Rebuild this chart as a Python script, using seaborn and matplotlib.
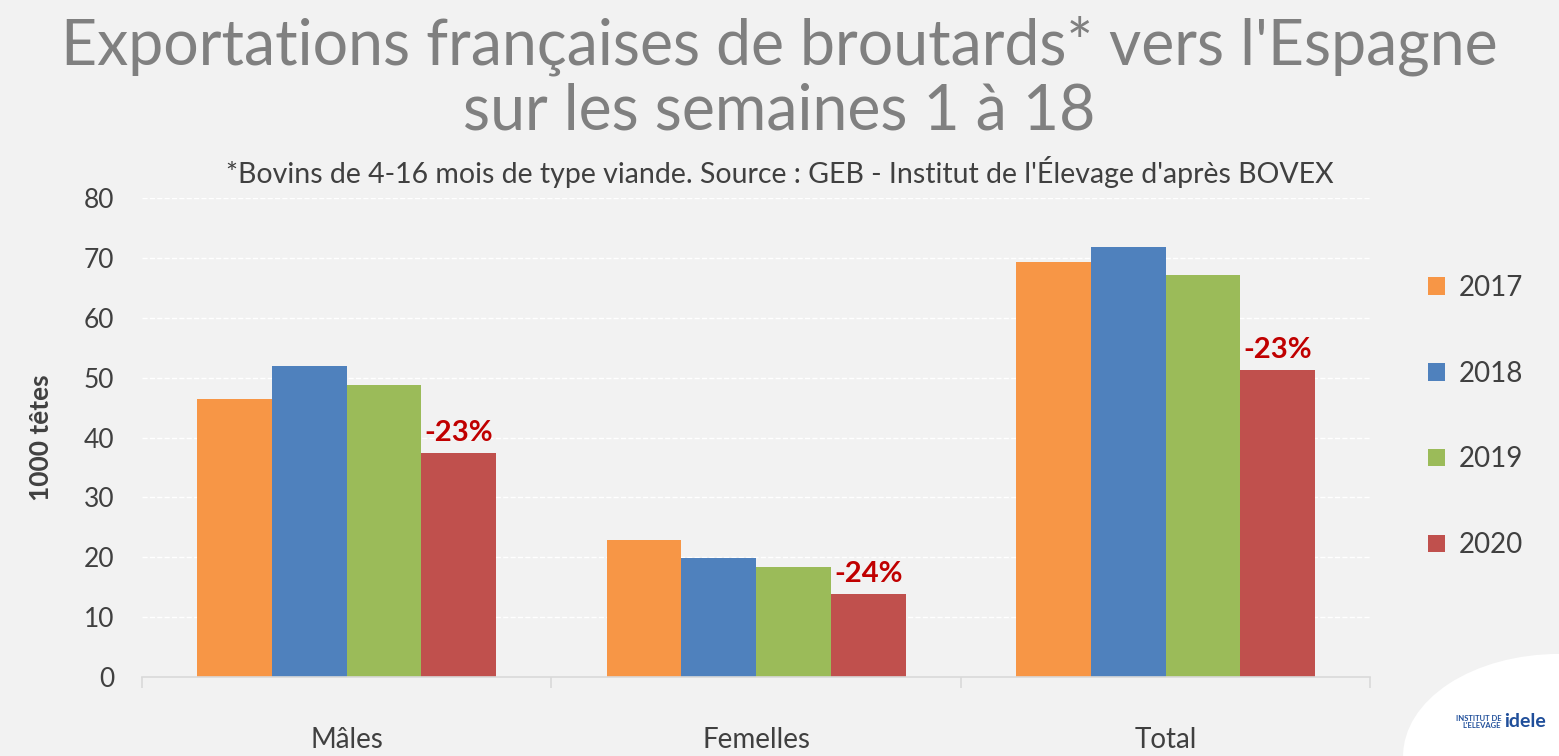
import pandas as pd
import numpy as np
import seaborn as sns
import matplotlib.pyplot as plt
from matplotlib.patches import Ellipse

# Data (thousand head, weeks 1-18)
categories = ["Mâles", "Femelles", "Total"]
years = ["2017", "2018", "2019", "2020"]
males = [46.4, 51.9, 48.7, 37.4]
femelles = [22.9, 19.9, 18.4, 13.9]
total = [69.3, 71.8, 67.1, 51.3]
changes = ["-23%", "-24%", "-23%"]

colors = ["#f79646", "#4f81bd", "#9bbb59", "#c0504d"]

data = pd.DataFrame({
    "Catégorie": np.repeat(categories, len(years)),
    "Année": years * len(categories),
    "Valeur": males + femelles + total,
})

sns.set_theme(style="white")
plt.rcParams["font.family"] = ["Lato", "DejaVu Sans"]

fig = plt.figure(figsize=(15.59, 7.56), dpi=100, facecolor="#f2f2f2")
ax = fig.add_axes([0.091, 0.1045, 0.788, 0.6335])
ax.set_facecolor("#f2f2f2")

sns.barplot(data=data, x="Catégorie", y="Valeur", hue="Année",
            palette=colors, width=0.73, saturation=1, ax=ax,
            edgecolor="none", legend=True)

ax.set_ylim(0, 80)
ax.set_xlim(-0.5, 2.5)
ax.set_yticks(range(0, 81, 10))
ax.grid(axis="y", color="white", linestyle="--", linewidth=1)
ax.set_axisbelow(True)
for s in ["top", "right", "left"]:
    ax.spines[s].set_visible(False)
ax.spines["bottom"].set_color("#d9d9d9")
ax.spines["bottom"].set_linewidth(1.2)

ax.set_xlabel("")
ax.set_ylabel("1000 têtes", fontsize=19, fontweight="bold", color="#404040", labelpad=22)
ax.tick_params(axis="y", labelsize=19, labelcolor="#404040", length=0, pad=20)
ax.tick_params(axis="x", labelsize=20, labelcolor="#404040", length=0, pad=36)
ax.set_xticks([-0.5, 0.5, 1.5, 2.5], minor=True)
ax.tick_params(axis="x", which="minor", length=8, color="#d9d9d9", width=1.2, bottom=True)

# change labels above the 2020 bars
bars_2020 = ax.containers[3]
for bar, txt in zip(bars_2020, changes):
    ax.text(bar.get_x() + bar.get_width() / 2, bar.get_height() + 1.2, txt,
            ha="center", va="bottom", fontsize=21, fontweight="bold", color="#c00000")

handles, labels = ax.get_legend_handles_labels()
ax.legend_.remove()
fig.legend(handles, labels, loc="center left", bbox_to_anchor=(0.9, 0.449),
           frameon=False, fontsize=20, handlelength=0.6, handleheight=0.6,
           handletextpad=0.5, labelspacing=2.15, labelcolor="#404040")

fig.text(0.5, 0.94, "Exportations françaises de broutards* vers l'Espagne",
         ha="center", va="center", fontsize=45, color="#808080")
fig.text(0.5, 0.852, "sur les semaines 1 à 18",
         ha="center", va="center", fontsize=45, color="#808080")
fig.text(0.5, 0.772, "*Bovins de 4-16 mois de type viande. Source : GEB - Institut de l'Élevage d'après BOVEX",
         ha="center", va="center", fontsize=20.5, color="#404040")

# logo corner
logo = Ellipse((1.0, 0.0), 0.2, 0.27, transform=fig.transFigure,
               facecolor="white", edgecolor="none", zorder=0)
fig.patches.append(logo)
fig.text(0.965, 0.045, "idele", ha="left", va="center", fontsize=14,
         fontweight="bold", color="#1f4e9a")
fig.text(0.963, 0.045, "INSTITUT DE\nL'ELEVAGE", ha="right", va="center",
         fontsize=5.5, fontweight="bold", color="#1f4e9a", linespacing=0.9)

fig.savefig("out.png", dpi=100, facecolor=fig.get_facecolor())
